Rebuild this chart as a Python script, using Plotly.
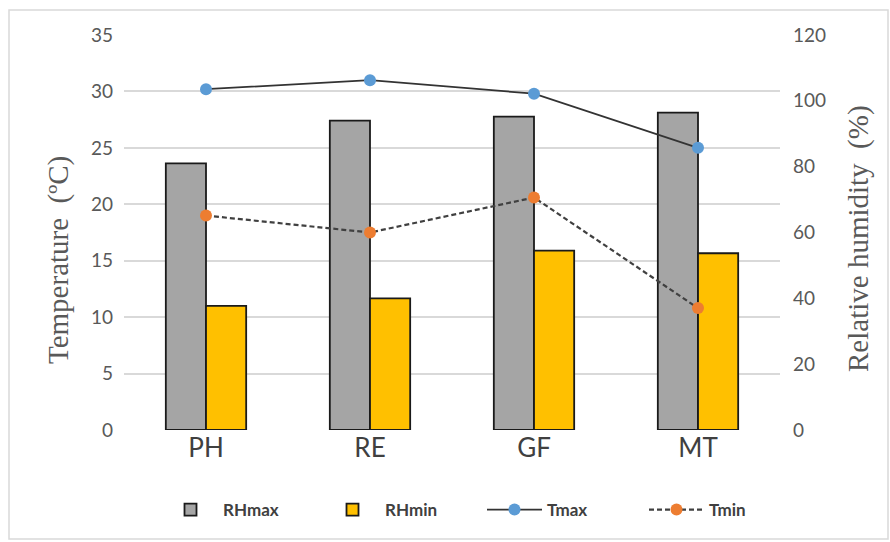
import plotly.graph_objects as go

sites = ["PH", "RE", "GF", "MT"]
rh_max = [81.0, 94.0, 95.2, 96.4]
rh_min = [37.7, 40.0, 54.5, 53.7]
t_max = [30.2, 31.0, 29.8, 25.0]
t_min = [19.0, 17.5, 20.6, 10.8]
temp_ticks = [0, 5, 10, 15, 20, 25, 30, 35]
rh_ticks = [0, 20, 40, 60, 80, 100, 120]

W, H = 890, 542
L, R, T, B = 124, 110, 35, 112
pw, ph = W - L - R, H - T - B


def px_x(p):
    return (p - L) / pw


def px_y(p):
    return (H - B - p) / ph


fig = go.Figure()
fig.add_trace(go.Bar(x=sites, y=rh_max, name="<b>RHmax</b>", yaxis="y",
                     marker=dict(color="#A5A5A5", line=dict(color="#1a1a1a", width=1.8))))
fig.add_trace(go.Bar(x=sites, y=rh_min, name="<b>RHmin</b>", yaxis="y",
                     marker=dict(color="#FFC000", line=dict(color="#1a1a1a", width=1.8))))
fig.add_trace(go.Scatter(x=sites, y=t_max, name="<b>Tmax</b>", yaxis="y2", mode="lines+markers",
                         line=dict(color="#333333", width=1.8),
                         marker=dict(color="#5B9BD5", size=12)))
fig.add_trace(go.Scatter(x=sites, y=t_min, name="<b>Tmin</b>", yaxis="y2", mode="lines+markers",
                         line=dict(color="#404040", width=2.2, dash="5px,3px"),
                         marker=dict(color="#ED7D31", size=12)))

tick_font = dict(family="Lato, Open Sans, sans-serif", size=19, color="#595959")

fig.update_layout(
    width=W, height=H,
    margin=dict(l=L, r=R, t=T, b=B),
    paper_bgcolor="white", plot_bgcolor="white",
    barmode="group", bargap=0.51, bargroupgap=0,
    showlegend=True,
    legend=dict(orientation="h", x=px_x(482), xanchor="center", y=px_y(510), yanchor="middle",
                font=dict(family="Lato, Open Sans, sans-serif", size=17, color="#404040"),
                itemwidth=55, entrywidth=92, entrywidthmode="pixels",
                traceorder="normal"),
    xaxis=dict(showgrid=False, showline=False, zeroline=False, ticks="",
               tickfont=dict(family="Lato, Open Sans, sans-serif", size=26, color="#404040")),
    yaxis=dict(side="right", range=[0, 120], tickvals=rh_ticks, showgrid=False, zeroline=False,
               showline=False, ticks="", tickfont=tick_font, ticklabelstandoff=12),
    yaxis2=dict(side="left", overlaying="y", range=[0, 35], tickvals=temp_ticks, showgrid=True,
                gridcolor="#d9d9d9", gridwidth=1.5, zeroline=False, showline=False, ticks="",
                tickfont=tick_font, ticklabelstandoff=10),
    annotations=[
        dict(text="Temperature  (ºC)", xref="paper", yref="paper", x=px_x(58), y=px_y(260),
             textangle=-90, showarrow=False, xanchor="center", yanchor="middle",
             font=dict(family="Liberation Serif, Times New Roman, serif", size=29, color="#595959")),
        dict(text="Relative humidity  (%)", xref="paper", yref="paper", x=px_x(858), y=px_y(239),
             textangle=-90, showarrow=False, xanchor="center", yanchor="middle",
             font=dict(family="Liberation Serif, Times New Roman, serif", size=29, color="#595959")),
    ],
    shapes=[dict(type="rect", xref="paper", yref="paper", x0=px_x(9), x1=px_x(888),
                 y0=px_y(539), y1=px_y(10), line=dict(color="#d9d9d9", width=1.5),
                 fillcolor="rgba(0,0,0,0)", layer="below")],
)

fig.write_html("out.html", config={"displayModeBar": False},
               post_script="document.body.style.margin='0';")
